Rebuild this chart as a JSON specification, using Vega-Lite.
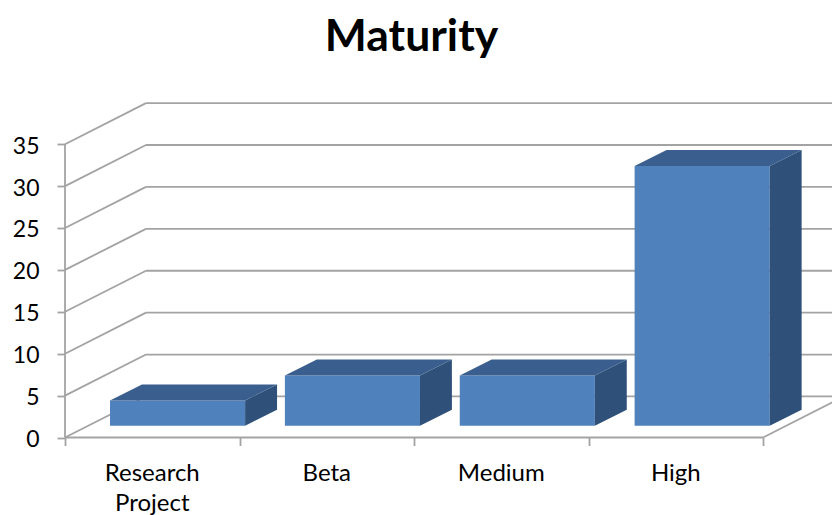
{
"$schema":"https://vega.github.io/schema/vega-lite/v6.json",
"width":767,"height":355.5,
"autosize":{"type":"none"},
"padding":{"left":65,"top":82,"right":0,"bottom":77.5},
"background":"white",
"title":{"text":"Maturity","font":"Lato","fontSize":44.5,"fontWeight":"bold","color":"#000000","anchor":"middle","frame":"group","dx":-37,"offset":22},
"config":{"view":{"stroke":null}},
"datasets":{
"bars":[{"category":"Research Project","slot":0,"value":3},{"category":"Beta","slot":1,"value":6},{"category":"Medium","slot":2,"value":6},{"category":"High","slot":3,"value":31}],
"grid":[{"level":0},{"level":5},{"level":10},{"level":15},{"level":20},{"level":25},{"level":30},{"level":35}]
},
"layer":[
{"data":{"name":"grid"},
 "transform":[{"calculate":"0","as":"a"},{"calculate":"0.464","as":"b"},{"calculate":"datum.level+4.9","as":"top"}],
 "mark":{"type":"rule","color":"#a3a3a3","strokeWidth":1.8},
 "encoding":{
  "x":{"field":"a","type":"quantitative","scale":{"domain":[0,4.395],"nice":false,"zero":false},
   "axis":{"values":[0,1,2,3,4],"labels":false,"domain":false,"grid":false,"title":null,"ticks":true,"tickSize":8,"tickColor":"#a3a3a3","tickWidth":1.8}},
  "x2":{"field":"b"},
  "y":{"field":"level","type":"quantitative","scale":{"domain":[0,42.42],"nice":false,"zero":false},
   "axis":{"values":[0,5,10,15,20,25,30,35],"domain":false,"grid":false,"title":null,"tickSize":8,"tickColor":"#a3a3a3","tickWidth":1.8,"labelFont":"Lato","labelFontSize":23,"labelColor":"#000000","labelPadding":18,"labelOffset":2}},
  "y2":{"field":"top"}}},
{"data":{"name":"grid"},
 "transform":[{"calculate":"0.464","as":"a"},{"calculate":"4.464","as":"b"},{"calculate":"datum.level+4.9","as":"top"}],
 "mark":{"type":"rule","color":"#a3a3a3","strokeWidth":1.8},
 "encoding":{
  "x":{"field":"a","type":"quantitative","scale":{"domain":[0,4.395],"nice":false,"zero":false}},
  "x2":{"field":"b"},
  "y":{"field":"top","type":"quantitative","scale":{"domain":[0,42.42],"nice":false,"zero":false}}}},
{"data":{"values":[{"from":0,"to":4,"low":0,"high":0},{"from":4,"to":4.464,"low":0,"high":4.9}]},
 "mark":{"type":"rule","color":"#a3a3a3","strokeWidth":1.8},
 "encoding":{
  "x":{"field":"from","type":"quantitative","scale":{"domain":[0,4.395],"nice":false,"zero":false}},
  "x2":{"field":"to"},
  "y":{"field":"low","type":"quantitative","scale":{"domain":[0,42.42],"nice":false,"zero":false}},
  "y2":{"field":"high"}}},
{"data":{"values":[{"from":0,"low":0,"high":35}]},
 "mark":{"type":"rule","color":"#a3a3a3","strokeWidth":1.8},
 "encoding":{
  "x":{"field":"from","type":"quantitative","scale":{"domain":[0,4.395],"nice":false,"zero":false}},
  "y":{"field":"low","type":"quantitative","scale":{"domain":[0,42.42],"nice":false,"zero":false}},
  "y2":{"field":"high"}}},
{"data":{"name":"bars"},
 "transform":[{"calculate":"datum.slot*1.002+0.258","as":"left"},{"calculate":"datum.slot*1.002+1.032","as":"right"},{"calculate":"1.41","as":"base"},{"calculate":"datum.value+1.41","as":"top"}],
 "mark":{"type":"rect","color":"#4f81bd"},
 "encoding":{
  "x":{"field":"left","type":"quantitative","scale":{"domain":[0,4.395],"nice":false,"zero":false}},
  "x2":{"field":"right"},
  "y":{"field":"base","type":"quantitative","scale":{"domain":[0,42.42],"nice":false,"zero":false}},
  "y2":{"field":"top"}}},
{"data":{"name":"bars"},
 "transform":[
  {"calculate":"datum.slot*1.002+1.032","as":"front"},{"calculate":"datum.slot*1.002+1.215","as":"back"},
  {"fold":["front","back"],"as":["edge","px"]},
  {"calculate":"datum.edge=='back'?1.91:0","as":"lift"},
  {"calculate":"1.41+datum.lift","as":"low"},{"calculate":"datum.value+1.41+datum.lift","as":"high"}],
 "mark":{"type":"area","color":"#2f5078","opacity":1,"interpolate":"linear"},
 "encoding":{
  "x":{"field":"px","type":"quantitative","scale":{"domain":[0,4.395],"nice":false,"zero":false}},
  "y":{"field":"low","type":"quantitative","scale":{"domain":[0,42.42],"nice":false,"zero":false},"stack":null},
  "y2":{"field":"high"},
  "detail":{"field":"category"}}},
{"data":{"name":"bars"},
 "transform":[
  {"calculate":"datum.slot*1.002+0.258","as":"c0"},{"calculate":"datum.slot*1.002+0.441","as":"c1"},{"calculate":"datum.slot*1.002+1.032","as":"c2"},{"calculate":"datum.slot*1.002+1.215","as":"c3"},
  {"fold":["c0","c1","c2","c3"],"as":["corner","px"]},
  {"calculate":"datum.value+1.41","as":"f"},
  {"calculate":"datum.corner=='c3'?datum.f+1.91:datum.f","as":"low"},
  {"calculate":"datum.corner=='c0'?datum.f:datum.f+1.91","as":"high"}],
 "mark":{"type":"area","color":"#3a5f8e","opacity":1,"interpolate":"linear"},
 "encoding":{
  "x":{"field":"px","type":"quantitative","scale":{"domain":[0,4.395],"nice":false,"zero":false}},
  "y":{"field":"low","type":"quantitative","scale":{"domain":[0,42.42],"nice":false,"zero":false},"stack":null},
  "y2":{"field":"high"},
  "detail":{"field":"category"}}},
{"data":{"name":"bars"},
 "transform":[{"calculate":"datum.slot+0.5","as":"mid"},{"calculate":"-2.9","as":"labelY"}],
 "mark":{"type":"text","font":"Lato","fontSize":24,"color":"#000000","baseline":"top","align":"center","lineBreak":" ","lineHeight":30},
 "encoding":{
  "x":{"field":"mid","type":"quantitative","scale":{"domain":[0,4.395],"nice":false,"zero":false}},
  "y":{"field":"labelY","type":"quantitative","scale":{"domain":[0,42.42],"nice":false,"zero":false}},
  "text":{"field":"category"}}}
]
}
